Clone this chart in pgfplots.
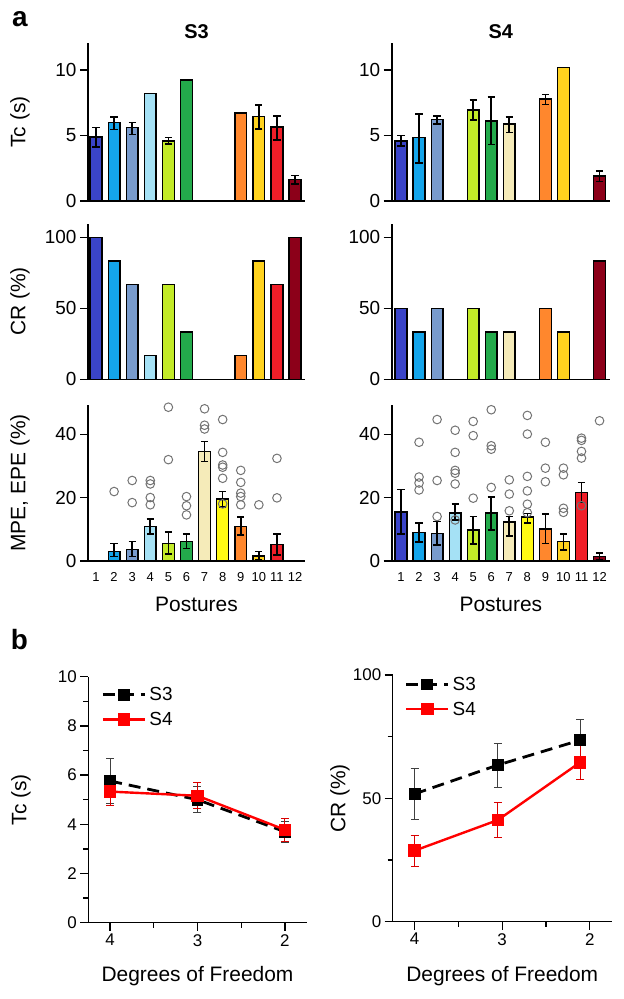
\documentclass[border=0pt]{standalone}
\usepackage{fontspec}
\setmainfont{Liberation Sans}
\usepackage{pgfplots}
\pgfplotsset{compat=1.18}
\definecolor{c1}{RGB}{58,68,200}
\definecolor{c2}{RGB}{20,165,235}
\definecolor{c3}{RGB}{120,155,205}
\definecolor{c4}{RGB}{165,225,245}
\definecolor{c5}{RGB}{195,235,40}
\definecolor{c6}{RGB}{35,170,75}
\definecolor{c7}{RGB}{245,235,185}
\definecolor{c8}{RGB}{255,250,20}
\definecolor{c9}{RGB}{255,135,45}
\definecolor{c10}{RGB}{255,210,30}
\definecolor{c11}{RGB}{240,30,40}
\definecolor{c12}{RGB}{140,0,25}
\newcommand{\fs}[1]{\fontsize{#1}{#1}\selectfont}
\newcommand{\pbar}[4]{\addplot[ybar, bar width=0.65, bar shift=0pt, fill=c#1, draw=black, line width=1.4bp,
  error bars/.cd, y dir=both, y explicit, error mark=-, error bar style={line width=1.6bp, black},
  error mark options={rotate=90, mark size=3.6bp, line width=1.6bp, black}] coordinates {(#1,#2) += (0,#3) -= (0,#4)};}
\newcommand{\nbar}[2]{\addplot[ybar, bar width=0.65, bar shift=0pt, fill=c#1, draw=black, line width=1.4bp] coordinates {(#1,#2)};}
\pgfplotsset{
  base/.style={scale only axis, anchor=north west, axis x line=bottom, axis y line=left,
    axis line style={line width=1.6bp,-}, tick style={line width=1.6bp,black},
    tick align=outside, ymin=0, clip=false, /pgf/number format/assume math mode=true,
    yticklabel style={font=\fs{19}}, xticklabel style={font=\fs{19}},
    label style={font=\fs{21}}, xtick=\empty, major tick length=8bp},
  barL/.style={base, width=217bp, xmin=0.558, xmax=12.55,
    ylabel style={at={(axis description cs:-0.313,0.5)}, anchor=center}},
  barR/.style={base, width=218.3bp, xmin=0.485, xmax=12.58},
  tcrow/.style={height=158bp, ymax=12.06, ytick={0,5,10}},
  crrow/.style={height=155.3bp, ymax=109.4, ytick={0,50,100}},
  mperow/.style={height=155.7bp, ymax=49.3, ytick={0,20,40}, xtick={1,...,12},
    xticklabel style={font=\fs{13}}, x tick style={draw=none},
    xlabel style={at={(axis description cs:0.5,-0.329)}, anchor=base}},
  circ/.style={only marks, mark=o, mark size=4.3bp, mark options={draw=black!55, fill=white, line width=1bp}},
  ttl/.style={title style={at={(axis description cs:0.5,1)}, anchor=base, yshift=-1bp, font=\fs{20}\bfseries}},
  lineax/.style={base, x dir=reverse, xmin=1.75, xmax=4.25, xtick={2,3,4}, minor x tick num=1,
    minor y tick num=1, minor tick length=5bp, yticklabel style={font=\fs{17}}, xticklabel style={font=\fs{17}},
    axis line style={line width=1.3bp,-}, tick style={line width=1.3bp,black},
    legend style={draw=none, fill=none, font=\fs{19}, anchor=north west, row sep=6bp, inner sep=0pt,
      nodes={inner xsep=3bp}},
    legend cell align=left,
    legend image code/.code={\draw[mark repeat=2, mark phase=2, ##1] plot coordinates {(0bp,0bp) (21bp,0bp) (42bp,0bp)};}},
  s3/.style={black, line width=2.8bp, dash pattern=on 12bp off 7bp, mark=square*, mark size=4.5bp,
    mark options={solid, fill=black},
    error bars/.cd, y dir=both, y explicit, error mark=-, error bar style={line width=0.9bp, black!75, solid},
    error mark options={rotate=90, mark size=4bp, line width=0.9bp, black!75, solid}},
  s4/.style={red, line width=2.4bp, mark=square*, mark size=5bp, mark options={solid, fill=red},
    error bars/.cd, y dir=both, y explicit, error mark=-, error bar style={line width=0.9bp, red!85!black, solid},
    error mark options={rotate=90, mark size=4bp, line width=0.9bp, red!85!black, solid}},
}
\begin{document}
\begin{tikzpicture}
\useasboundingbox (0,0) rectangle (624bp,-999bp);
\node[font=\fs{28}\bfseries] at (20bp,-19.5bp) {a};
\node[font=\fs{28}\bfseries] at (19.5bp,-640bp) {b};

% ---------- Tc S3
\begin{axis}[barL, tcrow, ttl, at={(88bp,-43bp)}, title={S3}, ylabel={Tc (s)}]
\pbar{1}{4.9}{0.7}{0.8}
\pbar{2}{5.97}{0.46}{0.51}
\pbar{3}{5.59}{0.41}{0.51}
\nbar{4}{8.19}
\pbar{5}{4.57}{0.28}{0.23}
\nbar{6}{9.23}
\nbar{9}{6.73}
\pbar{10}{6.43}{0.89}{0.95}
\pbar{11}{5.64}{0.86}{1.0}
\pbar{12}{1.66}{0.3}{0.36}
\end{axis}
% ---------- Tc S4
\begin{axis}[barR, tcrow, ttl, at={(391.7bp,-43bp)}, title={S4}]
\pbar{1}{4.59}{0.41}{0.39}
\pbar{2}{4.87}{1.79}{1.97}
\pbar{3}{6.2}{0.27}{0.33}
\pbar{5}{6.94}{0.76}{0.77}
\pbar{6}{6.12}{1.84}{1.82}
\pbar{7}{5.89}{0.54}{0.66}
\pbar{9}{7.78}{0.36}{0.41}
\nbar{10}{10.2}
\pbar{12}{1.91}{0.36}{0.41}
\end{axis}
% ---------- CR S3
\begin{axis}[barL, crrow, at={(88bp,-224bp)}, ylabel={CR (\%)}]
\nbar{1}{100}
\nbar{2}{83.3}
\nbar{3}{66.7}
\nbar{4}{16.7}
\nbar{5}{66.7}
\nbar{6}{33.3}
\nbar{9}{16.7}
\nbar{10}{83.3}
\nbar{11}{66.7}
\nbar{12}{100}
\end{axis}
% ---------- CR S4
\begin{axis}[barR, crrow, at={(391.7bp,-224bp)}]
\nbar{1}{50}
\nbar{2}{33.3}
\nbar{3}{50}
\nbar{5}{50}
\nbar{6}{33.3}
\nbar{7}{33.3}
\nbar{9}{50}
\nbar{10}{33.3}
\nbar{12}{83.3}
\end{axis}
% ---------- MPE S3
\begin{axis}[barL, mperow, at={(88bp,-405bp)}, ylabel={MPE, EPE (\%)}, xlabel={Postures}]
\pbar{2}{2.86}{2.54}{1.56}
\pbar{3}{3.6}{2.5}{2.3}
\pbar{4}{10.8}{2.5}{2.3}
\pbar{5}{5.5}{3.5}{3.4}
\pbar{6}{6.0}{2.4}{2.1}
\pbar{7}{34.6}{3.1}{3.2}
\pbar{8}{19.5}{2.4}{2.4}
\pbar{9}{10.8}{3.0}{2.7}
\pbar{10}{1.5}{1.4}{1.3}
\pbar{11}{5.1}{3.3}{3.3}
\addplot[circ] coordinates {(2,21.9) (3,25.4) (3,18.4) (4,25.4) (4,24.3) (4,20) (4,17.7)
 (5,48.6) (5,32) (6,20.3) (6,17.4) (6,14.5) (7,48.1) (7,42.9) (7,41.7)
 (8,44.7) (8,34.3) (8,30.3) (8,29.6) (8,26.1) (8,18.0)
 (9,28.6) (9,24.8) (9,21.4) (9,20.3) (9,17.7) (10,17.7) (11,32.4) (11,19.9)};
\end{axis}
% ---------- MPE S4
\begin{axis}[barR, mperow, at={(391.7bp,-405bp)}, xlabel={Postures}]
\pbar{1}{15.45}{7.15}{7.05}
\pbar{2}{8.9}{3.0}{2.9}
\pbar{3}{8.7}{3.7}{3.7}
\pbar{4}{15.1}{2.8}{2.2}
\pbar{5}{9.7}{4.3}{4.4}
\pbar{6}{15.1}{5.0}{5.4}
\pbar{7}{12.2}{1.8}{4.3}
\pbar{8}{13.8}{1.2}{1.9}
\pbar{9}{10.1}{4.6}{4.6}
\pbar{10}{6.0}{2.4}{2.6}
\pbar{11}{21.6}{3.2}{3.2}
\pbar{12}{1.3}{1.2}{1.1}
\addplot[circ] coordinates {(2,37.5) (2,26.5) (2,24.6) (2,22.4) (3,44.7) (3,25.4) (3,14.0)
 (4,41.3) (4,34.3) (4,28.6) (4,27.7) (4,24.3) (4,12.9) (5,44.1) (5,39.6) (5,19.8)
 (6,47.8) (6,36.4) (6,35.3) (6,23.2) (7,25.6) (7,21.1) (7,15.8)
 (8,46.0) (8,40.1) (8,26.7) (8,22.1) (8,17.9) (8,15.2) (9,37.5) (9,29.3) (9,25.0)
 (10,29.3) (10,27.2) (10,16.6) (10,15.3) (11,38.8) (11,38.1) (11,34.6) (11,32.5) (11,17.4) (12,44.3)};
\end{axis}
% ---------- b: Tc
\begin{axis}[lineax, at={(88.3bp,-676.7bp)}, width=218.4bp, height=246bp, ymax=10, ytick={0,2,...,10},
  ylabel={Tc (s)}, ylabel style={at={(axis description cs:-0.308,0.5)}, anchor=center},
  xlabel={Degrees of Freedom}, xlabel style={at={(axis description cs:0.5,-0.241)}, anchor=base},
  legend style={at={(axis description cs:0.06,0.965)}}]
\addplot[s3] coordinates {(4,5.76) +- (0,0.92) (3,5.0) +- (0,0.52) (2,3.7) +- (0,0.42)};
\addlegendentry{S3}
\addplot[s4] coordinates {(4,5.33) +- (0,0.55) (3,5.16) +- (0,0.53) (2,3.78) +- (0,0.47)};
\addlegendentry{S4}
\end{axis}
% ---------- b: CR
\begin{axis}[lineax, at={(392.7bp,-675bp)}, width=219bp, height=246.7bp, ymax=100, ytick={0,50,100},
  ylabel={CR (\%)}, ylabel style={at={(axis description cs:-0.241,0.5)}, anchor=center},
  xlabel={Degrees of Freedom}, xlabel style={at={(axis description cs:0.5,-0.244)}, anchor=base},
  legend style={at={(axis description cs:0.055,1.0)}}]
\addplot[s3] coordinates {(4,51.8) +- (0,10.3) (3.05,63.5) +- (0,8.9) (2.11,73.6) +- (0,8.2)};
\addlegendentry{S3}
\addplot[s4] coordinates {(4,28.8) +- (0,6.2) (3.05,41.2) +- (0,7.1) (2.11,64.6) +- (0,6.8)};
\addlegendentry{S4}
\end{axis}
\end{tikzpicture}
\end{document}
